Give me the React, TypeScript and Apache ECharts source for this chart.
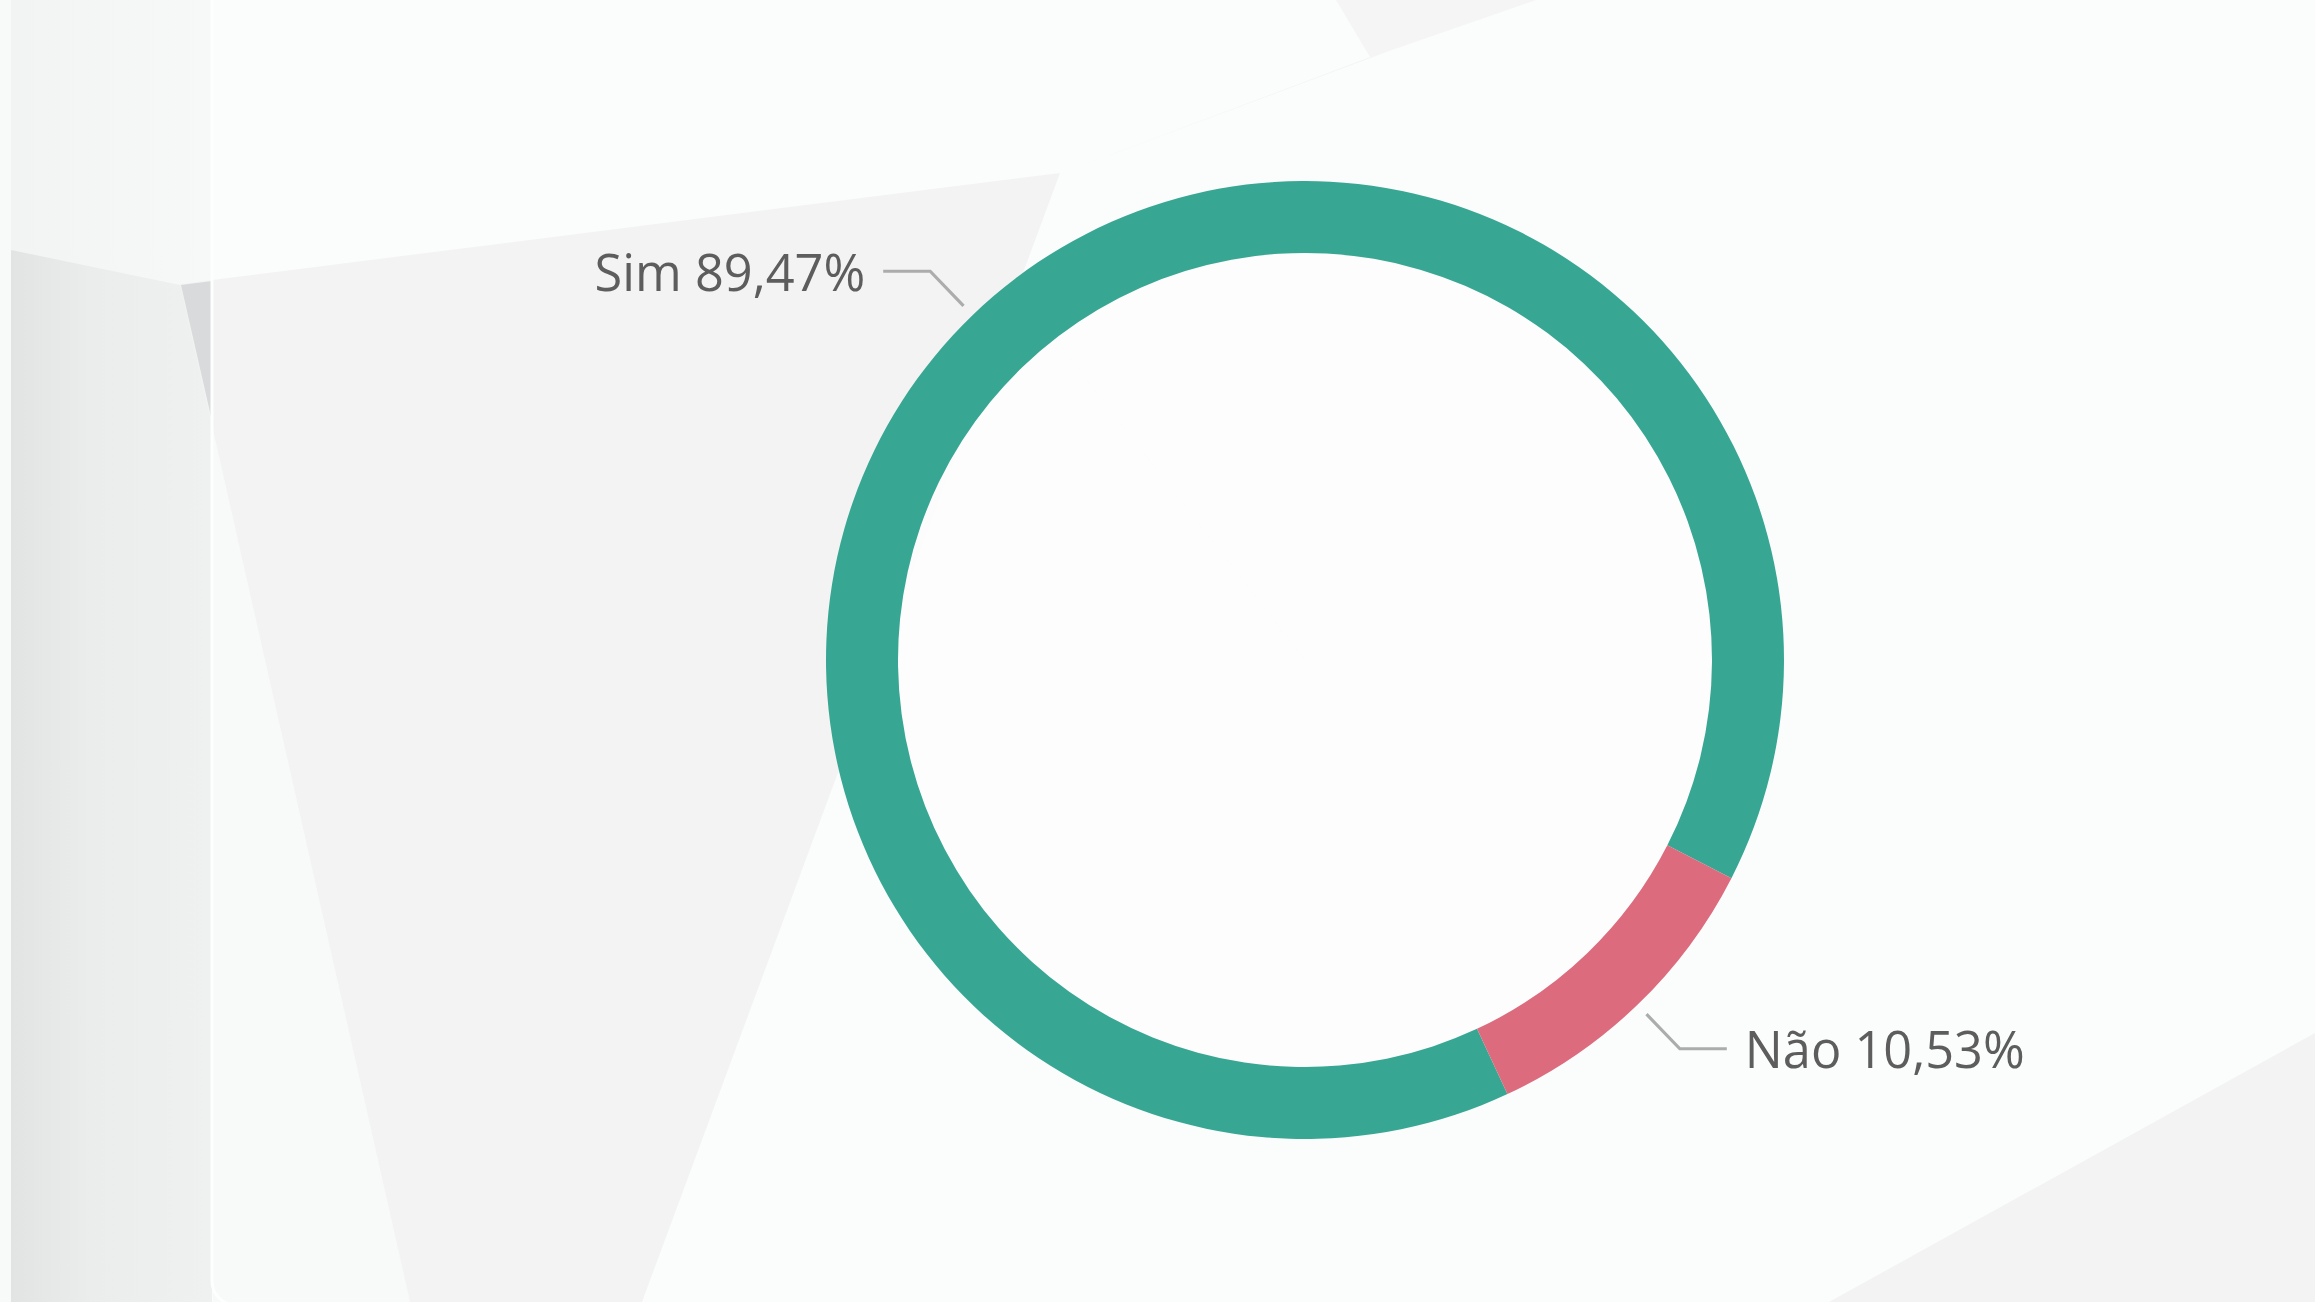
import React, { useEffect, useRef } from "react";
import * as echarts from "echarts";

const categories: string[] = ["Sim", "Não"];
const shares: number[] = [89.47, 10.53];
const sliceColors: string[] = ["#37a793", "#dc6b7e"];

const fmt = (v: number) => v.toFixed(2).replace(".", ",") + "%";

export default function App() {
  const ref = useRef<HTMLDivElement>(null);

  useEffect(() => {
    if (!ref.current) return;
    const chart = echarts.init(ref.current, undefined, { renderer: "svg" });

    const data = categories.map((name, i) => ({
      name,
      value: shares[i],
      itemStyle: { color: sliceColors[i] },
    }));

    const option: any = {
      animation: false,
      backgroundColor: "#fbfcfc",
      graphic: {
        elements: [
          { type: "rect", silent: true, shape: { x: 0, y: 0, width: 11, height: 1302 }, style: { fill: "#f8f9f9" } },
          {
            type: "rect",
            silent: true,
            shape: { x: 11, y: 0, width: 201, height: 1302 },
            style: {
              fill: new echarts.graphic.LinearGradient(0, 0, 1, 0, [
                { offset: 0, color: "#e2e3e3" },
                { offset: 0.4, color: "#ebecec" },
                { offset: 1, color: "#eff0f0" },
              ]),
            },
          },
          {
            type: "polygon",
            silent: true,
            shape: { points: [[11, 0], [212, 0], [212, 281], [180, 285], [11, 250]] },
            style: {
              fill: new echarts.graphic.LinearGradient(0, 0, 1, 0, [
                { offset: 0, color: "#f2f3f3" },
                { offset: 1, color: "#f7f8f8" },
              ]),
            },
          },
          {
            type: "rect",
            silent: true,
            shape: { x: 213, y: -40, width: 2140, height: 1345, r: [0, 0, 0, 24] },
            style: { fill: "#fbfcfc" },
          },
          { type: "polygon", silent: true, shape: { points: [[213, 430], [213, 1302], [410, 1302]] }, style: { fill: "#f8f9f9" } },
          { type: "polygon", silent: true, shape: { points: [[180, 284], [1060, 173], [642, 1302], [410, 1302]] }, style: { fill: "#f3f3f3" } },
          { type: "polygon", silent: true, shape: { points: [[181, 285], [212, 281], [212, 421]] }, style: { fill: "#d9dadb" } },
          {
            type: "polygon",
            silent: true,
            shape: { points: [[1336, 0], [1536, 0], [1392, 50], [1062, 173], [1370, 57]] },
            style: { fill: "#f5f5f5" },
          },
          { type: "polygon", silent: true, shape: { points: [[2315, 1033], [2315, 1302], [1829, 1302]] }, style: { fill: "#f3f3f3" } },
          {
            type: "rect",
            silent: true,
            shape: { x: 212, y: -40, width: 2140, height: 1345, r: [0, 0, 0, 24] },
            style: { fill: "none", stroke: "#fdfefe", lineWidth: 3 },
          },
        ],
      },
      series: [
        {
          type: "pie",
          silent: true,
          center: [1305, 660],
          radius: [0, 407],
          label: { show: false },
          labelLine: { show: false },
          data: categories.map((name, i) => ({
            name,
            value: shares[i],
            itemStyle: { color: "rgba(253,253,253,0.85)" },
          })),
        },
        {
          type: "pie",
          silent: true,
          center: [1305, 660],
          radius: [407, 479],
          startAngle: 295,
          clockwise: true,
          label: { show: false },
          labelLine: { show: false },
          data,
        },
        {
          type: "pie",
          silent: true,
          center: [1305, 660],
          radius: [480, 492],
          startAngle: 295,
          clockwise: true,
          itemStyle: { color: "rgba(0,0,0,0)" },
          label: {
            show: true,
            position: "outside",
            formatter: (p: any) => `${p.name} ${fmt(p.value)}`,
            fontFamily: "'Segoe UI', 'Open Sans', sans-serif",
            fontSize: 50.5,
            color: "#5d5d5d",
            distanceToLabelLine: 18,
            padding: [8, 0, 0, 0],
          },
          labelLine: {
            show: true,
            length: 48,
            length2: 47,
            smooth: false,
            lineStyle: { color: "#acacac", width: 3.2 },
          },
          data: categories.map((name, i) => ({
            name,
            value: shares[i],
            itemStyle: { color: "rgba(0,0,0,0)" },
          })),
        },
      ],
    };

    chart.setOption(option);
    const onResize = () => chart.resize();
    window.addEventListener("resize", onResize);
    return () => {
      window.removeEventListener("resize", onResize);
      chart.dispose();
    };
  }, []);

  return (
    <div
      ref={ref}
      style={{ position: "fixed", left: 0, top: 0, width: "2315px", height: "1302px" }}
    />
  );
}
